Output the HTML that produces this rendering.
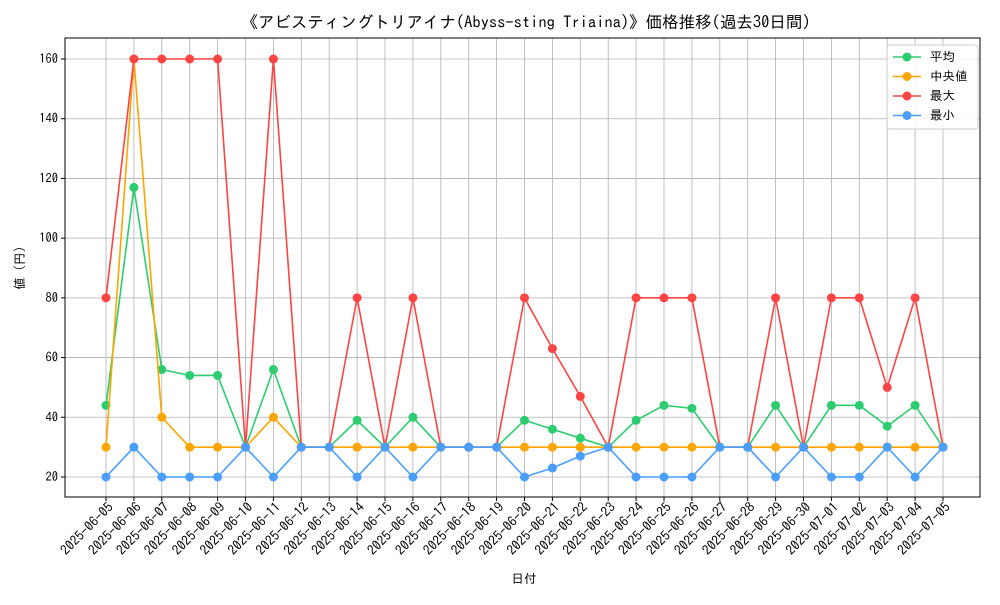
<!DOCTYPE html>
<html><head><meta charset="utf-8"><style>
body{margin:0;background:#fff;}
svg text{font-family:"IPAGothic","Liberation Sans","Noto Sans CJK JP",sans-serif;fill:#000;}
</style></head><body>
<svg id="c" width="1000" height="600" xmlns="http://www.w3.org/2000/svg"></svg>
<script>
const dates=["2025-06-05","2025-06-06","2025-06-07","2025-06-08","2025-06-09","2025-06-10","2025-06-11","2025-06-12","2025-06-13","2025-06-14","2025-06-15","2025-06-16","2025-06-17","2025-06-18","2025-06-19","2025-06-20","2025-06-21","2025-06-22","2025-06-23","2025-06-24","2025-06-25","2025-06-26","2025-06-27","2025-06-28","2025-06-29","2025-06-30","2025-07-01","2025-07-02","2025-07-03","2025-07-04","2025-07-05"];
const avgVals=[44,117,56,54,54,30,56,30,30,39,30,40,30,30,30,39,36,33,30,39,44,43,30,30,44,30,44,44,37,44,30];
const medVals=[30,160,40,30,30,30,40,30,30,30,30,30,30,30,30,30,30,30,30,30,30,30,30,30,30,30,30,30,30,30,30];
const maxVals=[80,160,160,160,160,30,160,30,30,80,30,80,30,30,30,80,63,47,30,80,80,80,30,30,80,30,80,80,50,80,30];
const minVals=[20,30,20,20,20,30,20,30,30,20,30,20,30,30,30,20,23,27,30,20,20,20,30,30,20,30,20,20,30,20,30];
const yTicks=[20,40,60,80,100,120,140,160];
const NS="http://www.w3.org/2000/svg";
const svg=document.getElementById("c");
const L=65,R=980,T=38,B=497;
const xS=i=>106+i*(943-106)/(dates.length-1);
const yS=v=>477-(v-20)*(477-59)/140;
function mk(t,a,p){const e=document.createElementNS(NS,t);for(const k in a)e.setAttribute(k,a[k]);(p||svg).appendChild(e);return e;}
yTicks.forEach(v=>{
 const g=mk("line",{x1:L,x2:R,y1:yS(v),y2:yS(v),stroke:"#b0b0b0","stroke-width":0.8});
 
 
 mk("line",{x1:L-4,x2:L,y1:yS(v),y2:yS(v),stroke:"#000"});
 const t=mk("text",{x:L-7,y:yS(v)+4,"text-anchor":"end","font-size":12.5});
 t.textContent=v;
 
 
});
dates.forEach((d,i)=>{
 const x=xS(i);
 const g=mk("line",{x1:x,x2:x,y1:T,y2:B,stroke:"#b0b0b0","stroke-width":0.8});
 
 
 mk("line",{x1:x,x2:x,y1:B,y2:B+4,stroke:"#000"});
 const t=mk("text",{x:x+8,y:B+11,"text-anchor":"end","font-size":13.5,transform:`rotate(-45 ${x+8} ${B+11})`});
 t.textContent=d;
 
 
});
const frame=mk("rect",{x:L,y:T,width:R-L,height:B-T,fill:"none",stroke:"#000","stroke-width":1});


const series=[["平均",avgVals,"#2ecc71","series-average"],["中央値",medVals,"#ffa500","series-median"],["最大",maxVals,"#ff4444","series-max"],["最小",minVals,"#4a9eff","series-min"]];
series.forEach(([n,vals,c,nm])=>{
 const g=mk("g",{});
 
 
 mk("polyline",{points:vals.map((v,i)=>xS(i)+","+yS(v)).join(" "),fill:"none",stroke:c,"stroke-width":1.6},g);
 vals.forEach((v,i)=>{
  const p=mk("circle",{cx:xS(i),cy:yS(v),r:4.5,fill:c},g);
  
  
 });
});
const lg=mk("g",{});


mk("rect",{x:887,y:45,width:91,height:84,rx:3,fill:"#fff","fill-opacity":0.85,stroke:"#ccc"},lg);
series.forEach(([n,vals,c],i)=>{
 const y=57+i*19.5;
 const e=mk("g",{},lg);
 
 
 mk("line",{x1:893,x2:921,y1:y,y2:y,stroke:c,"stroke-width":1.6},e);
 mk("circle",{cx:907,cy:y,r:4.5,fill:c},e);
 const t=mk("text",{x:930,y:y+4,"font-size":12.5},e);t.textContent=(n==="中央値"?" ":"")+n;
});
const tt=mk("text",{x:526,y:28,"text-anchor":"middle","font-size":16.5});
tt.textContent="《アビスティングトリアイナ(Abyss-sting Triaina)》価格推移(過去30日間)";


const xl=mk("text",{x:524,y:583,"text-anchor":"middle","font-size":12.5});
xl.textContent="日付";


const yl=mk("text",{x:24,y:268,"text-anchor":"middle","font-size":12.5,transform:"rotate(-90 24 268)"});
yl.textContent="値 (円)";


</script>
</body></html>
